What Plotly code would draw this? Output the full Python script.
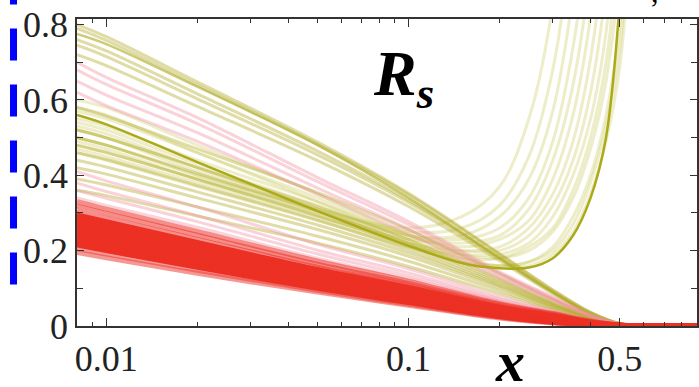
import plotly.graph_objects as go

# ---------------- data ----------------
X_DESC = [0.008, 0.01, 0.02, 0.05, 0.1, 0.2, 0.3, 0.4, 0.5, 0.6, 0.9]

RED_EDGE_LOW = [
    [0.195, 0.181, 0.140, 0.090, 0.055, 0.021, 0.008, 0.002, 0.000, 0, 0],
    [0.205, 0.191, 0.148, 0.095, 0.058, 0.023, 0.009, 0.003, 0.001, 0, 0],
]
RED_CORE = [
    [0.215, 0.200, 0.156, 0.100, 0.062, 0.025, 0.010, 0.003, 0.001, 0, 0],
    [0.222, 0.207, 0.162, 0.104, 0.065, 0.027, 0.011, 0.004, 0.001, 0, 0],
    [0.230, 0.215, 0.168, 0.109, 0.069, 0.029, 0.012, 0.004, 0.001, 0, 0],
    [0.238, 0.222, 0.175, 0.114, 0.073, 0.031, 0.014, 0.005, 0.001, 0, 0],
    [0.245, 0.229, 0.181, 0.118, 0.077, 0.033, 0.015, 0.005, 0.001, 0, 0],
    [0.252, 0.236, 0.186, 0.123, 0.080, 0.035, 0.016, 0.006, 0.001, 0, 0],
    [0.260, 0.243, 0.193, 0.128, 0.084, 0.038, 0.018, 0.006, 0.001, 0, 0],
    [0.268, 0.251, 0.199, 0.133, 0.088, 0.040, 0.020, 0.007, 0.002, 0, 0],
    [0.276, 0.259, 0.206, 0.138, 0.092, 0.043, 0.022, 0.008, 0.002, 0, 0],
    [0.285, 0.267, 0.213, 0.144, 0.097, 0.046, 0.024, 0.009, 0.002, 0, 0],
    [0.295, 0.277, 0.222, 0.150, 0.102, 0.050, 0.027, 0.010, 0.002, 0, 0],
]
RED_EDGE_HIGH = [
    [0.305, 0.286, 0.230, 0.156, 0.107, 0.053, 0.029, 0.011, 0.002, 0, 0],
    [0.318, 0.299, 0.241, 0.164, 0.113, 0.057, 0.031, 0.012, 0.003, 0, 0],
    [0.330, 0.310, 0.251, 0.172, 0.119, 0.059, 0.033, 0.013, 0.003, 0.001, 0],
]

PINK_CURVES = [
    [0.340, 0.320, 0.262, 0.180, 0.126, 0.065, 0.034, 0.014, 0.003, 0, 0],
    [0.360, 0.339, 0.277, 0.191, 0.133, 0.068, 0.036, 0.014, 0.003, 0, 0],
    [0.380, 0.357, 0.293, 0.201, 0.141, 0.072, 0.038, 0.015, 0.003, 0, 0],
    [0.410, 0.385, 0.316, 0.217, 0.152, 0.078, 0.041, 0.016, 0.003, 0, 0],
    [0.620, 0.585, 0.490, 0.350, 0.245, 0.128, 0.068, 0.026, 0.005, 0, 0],
    [0.650, 0.613, 0.513, 0.366, 0.257, 0.134, 0.071, 0.027, 0.005, 0, 0],
    [0.680, 0.641, 0.537, 0.383, 0.269, 0.140, 0.074, 0.028, 0.005, 0, 0],
    [0.700, 0.660, 0.553, 0.394, 0.277, 0.144, 0.077, 0.030, 0.006, 0, 0],
]

OLIVE_DESC = [
    [0.360, 0.346, 0.292, 0.220, 0.158, 0.086, 0.043, 0.016, 0.003, 0, 0],
    [0.390, 0.374, 0.316, 0.238, 0.172, 0.094, 0.047, 0.018, 0.003, 0, 0],
    [0.420, 0.403, 0.340, 0.256, 0.185, 0.101, 0.050, 0.019, 0.003, 0, 0],
    [0.440, 0.422, 0.356, 0.268, 0.194, 0.106, 0.053, 0.020, 0.004, 0, 0],
    [0.460, 0.442, 0.373, 0.281, 0.202, 0.110, 0.055, 0.021, 0.004, 0, 0],
    [0.480, 0.461, 0.389, 0.293, 0.211, 0.115, 0.058, 0.022, 0.004, 0, 0],
    [0.500, 0.480, 0.405, 0.305, 0.220, 0.120, 0.060, 0.023, 0.004, 0, 0],
    [0.520, 0.499, 0.421, 0.317, 0.229, 0.125, 0.062, 0.023, 0.004, 0, 0],
    [0.580, 0.557, 0.470, 0.354, 0.255, 0.139, 0.070, 0.026, 0.005, 0, 0],
    [0.720, 0.691, 0.583, 0.439, 0.317, 0.173, 0.086, 0.032, 0.006, 0, 0],
    [0.745, 0.715, 0.603, 0.454, 0.328, 0.179, 0.089, 0.034, 0.006, 0, 0],
    [0.760, 0.730, 0.616, 0.464, 0.334, 0.182, 0.091, 0.034, 0.006, 0, 0],
    [0.790, 0.758, 0.640, 0.482, 0.348, 0.190, 0.095, 0.036, 0.006, 0, 0],
    [0.800, 0.768, 0.648, 0.488, 0.352, 0.192, 0.096, 0.036, 0.006, 0, 0],
]
OLIVE_TOP = [0.775, 0.748, 0.635, 0.480, 0.340, 0.180, 0.090, 0.031, 0.005, 0, 0]

X_RISE = [0.008, 0.01, 0.02, 0.05, 0.1, 0.15, 0.2, 0.25, 0.3, 0.35, 0.4, 0.45, 0.5, 0.55]

OLIVE_RISE = [
    [0.50, 0.48, 0.40, 0.31, 0.26, 0.29, 0.37, 0.55, 0.85, 1.30, 1.80, 2.40, 3.00, 3.60],
    [0.52, 0.50, 0.41, 0.31, 0.25, 0.26, 0.32, 0.45, 0.68, 1.05, 1.50, 2.00, 2.60, 3.20],
    [0.49, 0.47, 0.39, 0.30, 0.24, 0.24, 0.29, 0.39, 0.57, 0.88, 1.30, 1.80, 2.40, 3.00],
    [0.54, 0.52, 0.43, 0.32, 0.24, 0.23, 0.26, 0.34, 0.49, 0.74, 1.10, 1.60, 2.20, 2.80],
    [0.47, 0.45, 0.38, 0.29, 0.23, 0.22, 0.24, 0.31, 0.44, 0.64, 0.95, 1.40, 2.00, 2.60],
    [0.55, 0.53, 0.44, 0.33, 0.24, 0.21, 0.23, 0.28, 0.39, 0.56, 0.82, 1.20, 1.80, 2.40],
    [0.50, 0.48, 0.40, 0.30, 0.22, 0.20, 0.21, 0.26, 0.35, 0.49, 0.71, 1.05, 1.60, 2.20],
    [0.58, 0.56, 0.46, 0.34, 0.24, 0.20, 0.20, 0.24, 0.32, 0.44, 0.62, 0.90, 1.40, 2.00],
    [0.46, 0.44, 0.37, 0.28, 0.21, 0.19, 0.19, 0.22, 0.29, 0.40, 0.55, 0.78, 1.20, 1.80],
    [0.53, 0.51, 0.42, 0.31, 0.22, 0.18, 0.18, 0.21, 0.26, 0.36, 0.50, 0.70, 1.05, 1.60],
    [0.60, 0.58, 0.48, 0.35, 0.24, 0.19, 0.18, 0.20, 0.25, 0.34, 0.47, 0.65, 0.95, 1.50],
    [0.52, 0.50, 0.42, 0.31, 0.22, 0.17, 0.16, 0.17, 0.21, 0.29, 0.40, 0.56, 0.80, 1.30],
    [0.57, 0.55, 0.46, 0.33, 0.23, 0.18, 0.16, 0.17, 0.20, 0.27, 0.38, 0.53, 0.74, 1.20],
    [0.48, 0.46, 0.39, 0.29, 0.21, 0.17, 0.16, 0.16, 0.19, 0.25, 0.35, 0.49, 0.69, 1.10],
]
SOLID_RISE = [0.56, 0.535, 0.435, 0.305, 0.213, 0.167, 0.153, 0.155, 0.18, 0.24, 0.34, 0.50, 0.86, 1.40]

X_TICKS = [0.01, 0.1, 0.5]
X_TICKTEXT = ["0.01", "0.1", "0.5"]
X_MINOR = [0.009, 0.02, 0.03, 0.04, 0.05, 0.06, 0.07, 0.08, 0.09, 0.2, 0.3, 0.4, 0.6, 0.7, 0.8]
Y_TICKS = [0, 0.2, 0.4, 0.6, 0.8]
Y_TICKTEXT = ["0", "0.2", "0.4", "0.6", "0.8"]
Y_MINOR = [0.1, 0.3, 0.5, 0.7]

X_RANGE = [-2.0969, -0.0458]
Y_RANGE = [0, 0.8147]

FONT = "Liberation Serif"

# ---------------- figure ----------------
fig = go.Figure()

def add_family(xs, curves, color, width):
    """One trace per family: curves joined with gaps."""
    px, py = [], []
    for c in curves:
        px += list(xs) + [None]
        py += list(c) + [None]
    fig.add_trace(go.Scatter(x=px, y=py, mode="lines", showlegend=False, connectgaps=False,
                             line=dict(color=color, width=width, shape="spline")))

add_family(X_RISE, OLIVE_RISE, "rgba(195,195,75,0.3)", 3)
add_family(X_DESC, OLIVE_DESC, "rgba(180,172,45,0.42)", 3)
add_family(X_DESC, [OLIVE_TOP], "rgba(170,170,30,0.6)", 2.5)
add_family(X_DESC, PINK_CURVES, "rgba(240,145,160,0.4)", 3)
add_family(X_DESC, RED_EDGE_LOW, "rgba(236,50,40,0.5)", 5)
add_family(X_DESC, RED_EDGE_HIGH, "rgba(236,50,40,0.55)", 5)
add_family(X_DESC, RED_CORE, "rgb(236,48,36)", 5)
add_family(X_RISE, [SOLID_RISE], "rgb(172,170,25)", 2.5)

# invisible point so the minor-tick overlay axes are drawn
fig.add_trace(go.Scatter(x=[0.5], y=[0.0], xaxis="x2", yaxis="y2", mode="markers",
                         marker=dict(opacity=0), showlegend=False))

def serif(t):
    return "<span style='font-family:Liberation Serif'>" + t + "</span>"

TICKFONT = dict(family=FONT, size=36, color="#222")
fig.update_layout(
    xaxis=dict(type="log", range=X_RANGE, tickvals=X_TICKS, ticktext=[serif(t) for t in X_TICKTEXT],
               tickfont=TICKFONT, automargin=False,
               showline=True, linecolor="#333", linewidth=1.5, mirror="ticks",
               ticks="inside", ticklen=8, tickwidth=1.3, tickcolor="#333",
               showgrid=False, zeroline=False),
    yaxis=dict(range=Y_RANGE, tickvals=Y_TICKS, ticktext=[serif(t) for t in Y_TICKTEXT],
               tickfont=TICKFONT, automargin=False,
               showline=True, linecolor="#333", linewidth=1.5, mirror="ticks",
               ticks="inside", ticklen=7, tickwidth=1.3, tickcolor="#333",
               showgrid=False, zeroline=False),
    xaxis2=dict(type="log", range=X_RANGE, overlaying="x", anchor="y", side="bottom",
                tickvals=X_MINOR, showticklabels=False, showline=False, mirror="ticks",
                ticks="inside", ticklen=4, tickwidth=1, tickcolor="#333", automargin=False,
                showgrid=False, zeroline=False),
    yaxis2=dict(range=Y_RANGE, overlaying="y", anchor="x", side="left",
                tickvals=Y_MINOR, showticklabels=False, showline=False, mirror="ticks",
                ticks="inside", ticklen=6, tickwidth=1, tickcolor="#333", automargin=False,
                showgrid=False, zeroline=False),
)

fig.add_annotation(text=serif("<b><i>R<sub>s</sub></i></b>"), xref="paper", yref="paper",
                   x=0.474, y=0.808, xanchor="left", yanchor="middle", showarrow=False,
                   font=dict(family=FONT, size=64, color="black"))
fig.add_annotation(text=serif("<b><i>x</i></b>"), xref="paper", yref="paper",
                   x=0.698, y=-0.115, xanchor="center", yanchor="middle", showarrow=False,
                   font=dict(family=FONT, size=58, color="black"))
fig.add_annotation(text=",", xref="paper", yref="paper",
                   x=0.932, y=1.03, xanchor="center", yanchor="bottom", showarrow=False,
                   font=dict(family=FONT, size=30, color="black"))

# clipped blue dashed line at the far left edge
fig.add_shape(type="line", xref="paper", yref="paper", x0=-0.1024, x1=-0.1024,
              y0=1.1515, y1=0.1238, line=dict(color="rgb(0,0,255)", width=7, dash="32px,24px"))

fig.update_layout(width=699, height=387, margin=dict(l=77, r=2, t=19, b=61, autoexpand=False),
                  paper_bgcolor="white", plot_bgcolor="white")

fig.write_html("out.html")
